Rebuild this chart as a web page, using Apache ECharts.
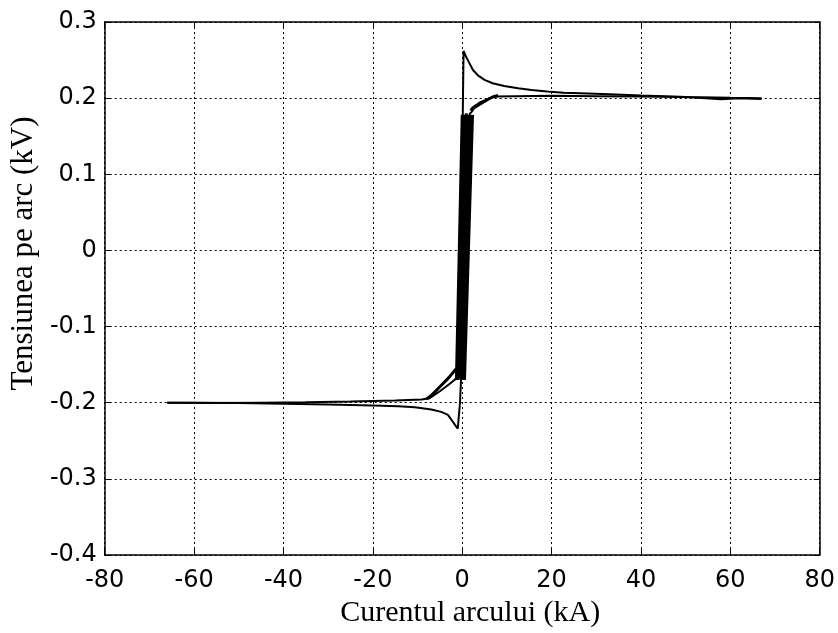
<!DOCTYPE html>
<html>
<head>
<meta charset="utf-8">
<script src="https://cdn.jsdelivr.net/npm/echarts@6/dist/echarts.min.js"></script>
<style>html,body{margin:0;padding:0;background:#fff}#c{width:838px;height:633px}</style>
</head>
<body>
<div id="c"></div>
<script>
// ---- data (current in kA, voltage in kV) ----
var xTicks = [-80, -60, -40, -20, 0, 20, 40, 60, 80];
var yTicks = [-0.4, -0.3, -0.2, -0.1, 0, 0.1, 0.2, 0.3];

// upper branch: ignition spike then decay with rising current
var upperRiseI = [0.1, 0.3, 0.8, 1.6, 2.4, 3.5, 5.0, 6.8, 9.4, 12.5, 15.5, 19, 22.7, 26.4, 33, 40, 50, 60, 67];
var upperRiseV = [0.17, 0.262, 0.255, 0.246, 0.237, 0.230, 0.224, 0.2195, 0.216, 0.213, 0.2107, 0.2086, 0.207, 0.2064, 0.205, 0.2035, 0.2015, 0.2005, 0.2];

// upper return branch (current decreasing)
var upperRetI = [67, 62, 58, 50, 40, 30, 20, 12, 7.2, 6.1, 5.0, 3.9, 2.7, 2.1, 1.5];
var upperRetV = [0.199, 0.2, 0.1985, 0.2015, 0.202, 0.2025, 0.203, 0.2025, 0.202, 0.2, 0.195, 0.191, 0.187, 0.182, 0.178];
var upperRet2I = [8.0, 6.8, 5.5, 4.2, 3.2, 2.4, 1.9];
var upperRet2V = [0.2035, 0.2015, 0.1975, 0.1945, 0.1905, 0.1875, 0.1835];

// lower branch: extinction spike then decay with negative current
var lowerFallI = [-0.2, -0.5, -1.0, -1.5, -2.1, -3.2, -4.7, -6.9, -10.6, -14.3, -20, -30, -40, -50, -60, -66];
var lowerFallV = [-0.16, -0.2, -0.234, -0.23, -0.225, -0.216, -0.212, -0.209, -0.206, -0.2045, -0.2035, -0.2025, -0.2015, -0.2005, -0.2, -0.2];

// lower return branch
var lowerRetI = [-66, -55, -45, -35, -25, -15, -9.1, -7.3, -5.0, -3.0, -1.3];
var lowerRetV = [-0.2, -0.2005, -0.2, -0.1995, -0.1985, -0.197, -0.1957, -0.194, -0.185, -0.176, -0.168];
var lowerRet2I = [-8.0, -7.0, -5.0, -3.0, -1.3];
var lowerRet2V = [-0.195, -0.191, -0.179, -0.167, -0.155];

// steep conduction band crossing zero (several cycles)
var bandBottomI = [-1.3, -0.95, -0.6, -0.25, 0.1, 0.5];
var bandTopI = [0.0, 0.45, 0.9, 1.35, 1.8, 2.3];
var bandBottomV = [-0.17, -0.17, -0.168, -0.17, -0.17, -0.17];
var bandTopV = [0.178, 0.178, 0.18, 0.178, 0.178, 0.178];

function pairs(a, b) { return a.map(function (v, i) { return [v, b[i]]; }); }

var series = [];
function addLine(data, w) {
  series.push({
    type: 'line', data: data, showSymbol: false, symbol: 'none',
    lineStyle: { color: '#000', width: w }, silent: true, animation: false, z: 5
  });
}
addLine(pairs(upperRiseI, upperRiseV), 2);
addLine(pairs(upperRetI, upperRetV), 2);
addLine(pairs(upperRet2I, upperRet2V), 3);
addLine(pairs(lowerFallI, lowerFallV), 2);
addLine(pairs(lowerRetI, lowerRetV), 2);
addLine(pairs(lowerRet2I, lowerRet2V), 3);
for (var k = 0; k < bandBottomI.length; k++) {
  addLine([[bandBottomI[k], bandBottomV[k]], [bandTopI[k], bandTopV[k]]], 3);
}

var tickFont = { fontFamily: 'DejaVu Sans', fontSize: 24, color: '#000' };
var gridLine = { show: true, lineStyle: { color: '#000', width: 1, type: [2, 3] } };
var axisLine = { show: true, onZero: false, lineStyle: { color: '#000', width: 1.5 } };

var chart = echarts.init(document.getElementById('c'), null, { renderer: 'canvas' });
chart.setOption({
  animation: false,
  backgroundColor: '#fff',
  grid: { left: 101, right: 17, top: 22, bottom: 78, containLabel: false },
  xAxis: [{
    type: 'value', min: xTicks[0], max: xTicks[xTicks.length - 1], interval: 20,
    position: 'bottom',
    name: 'Curentul arcului (kA)', nameLocation: 'middle', nameGap: 33,
    nameTextStyle: { fontFamily: 'Liberation Serif', fontSize: 30, color: '#000', padding: [0, 0, 0, 16] },
    axisLine: axisLine, axisTick: { show: true, inside: true, length: 6, lineStyle: { color: '#000' } },
    axisLabel: Object.assign({ margin: 14 }, tickFont),
    splitLine: gridLine
  }, {
    type: 'value', min: xTicks[0], max: xTicks[xTicks.length - 1], interval: 20,
    position: 'top',
    axisLine: axisLine, axisTick: { show: true, inside: true, length: 6, lineStyle: { color: '#000' } },
    axisLabel: { show: false }, splitLine: { show: false }
  }],
  yAxis: [{
    type: 'value', min: yTicks[0], max: yTicks[yTicks.length - 1], interval: 0.1,
    position: 'left',
    name: 'Tensiunea pe arc (kV)', nameLocation: 'middle', nameGap: 62,
    nameTextStyle: { fontFamily: 'Liberation Serif', fontSize: 31, color: '#000', padding: [0, 0, 0, 70] },
    axisLine: axisLine, axisTick: { show: true, inside: true, length: 6, lineStyle: { color: '#000' } },
    axisLabel: Object.assign({ margin: 8, formatter: function (v) { return String(parseFloat(v.toFixed(1))); } }, tickFont),
    splitLine: gridLine
  }, {
    type: 'value', min: yTicks[0], max: yTicks[yTicks.length - 1], interval: 0.1,
    position: 'right',
    axisLine: axisLine, axisTick: { show: true, inside: true, length: 6, lineStyle: { color: '#000' } },
    axisLabel: { show: false }, splitLine: { show: false }
  }],
  series: series
});
</script>
</body>
</html>
